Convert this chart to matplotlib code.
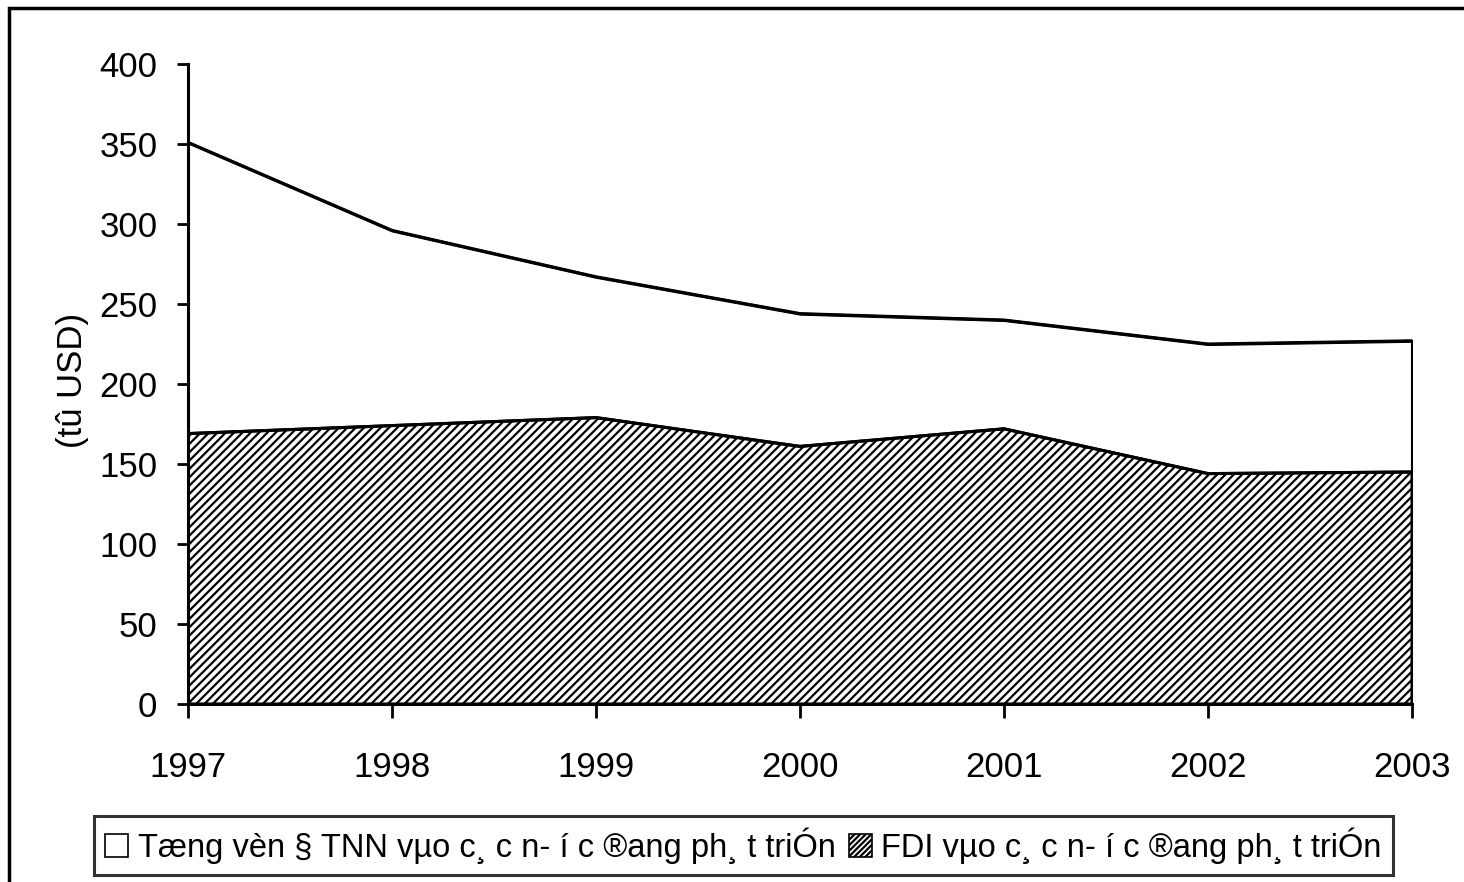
import matplotlib
matplotlib.use("Agg")
import matplotlib.pyplot as plt
from matplotlib.patches import Rectangle, Patch

plt.rcParams['font.family'] = ['Liberation Sans', 'DejaVu Sans']
plt.rcParams['hatch.linewidth'] = 1.6

years = ['1997', '1998', '1999', '2000', '2001', '2002', '2003']
total_fdi = [351, 296, 267, 244, 240, 225, 227]
fdi_developing = [169, 174, 179, 161, 172, 144, 145]
yticks = [0, 50, 100, 150, 200, 250, 300, 350, 400]
label_total = "Tæng vèn § TNN vµo c¸ c n- í c ®ang ph¸ t triÓn"
label_fdi = "FDI vµo c¸ c n- í c ®ang ph¸ t triÓn"
ylabel = "(tû USD)"

W, H = 1464, 882
fig = plt.figure(figsize=(W / 100, H / 100), dpi=100)
fig.patch.set_facecolor('white')

# outer chart frame
fig.patches.append(Rectangle((9 / W, -0.02), 1.05, 1 - 8 / H + 0.02, transform=fig.transFigure,
                             fill=False, edgecolor='black', linewidth=2.5, zorder=0))

ax = fig.add_axes([188 / W, 1 - 704 / H, 1224 / W, 640 / H])
x = list(range(len(years)))

ax.fill_between(x, 0, total_fdi, facecolor='white', edgecolor='black', linewidth=2.2, zorder=2)
ax.plot(x, total_fdi, color='black', linewidth=2.2, zorder=3)
ax.vlines(x[-1], 0, total_fdi[-1], color='black', linewidth=2.2, zorder=3)
ax.fill_between(x, 0, fdi_developing, facecolor='white', edgecolor='black', hatch='////',
                linewidth=2.2, zorder=4)
ax.plot(x, fdi_developing, color='black', linewidth=2.2, zorder=5)

ax.set_xlim(0, len(years) - 1)
ax.set_ylim(0, 400)
ax.set_yticks(yticks)
ax.set_xticks(x)
ax.set_xticklabels(years)

for s in ['top', 'right']:
    ax.spines[s].set_visible(False)
for s in ['left', 'bottom']:
    ax.spines[s].set_linewidth(2.2)
    ax.spines[s].set_zorder(6)

ax.tick_params(axis='y', direction='out', length=8, width=2, labelsize=25, pad=14)
ax.tick_params(axis='x', direction='out', length=10, width=2, labelsize=25, pad=24)
ax.set_ylabel(ylabel, fontsize=25)
ax.yaxis.set_label_coords(-0.081, 0.506)

handles = [Patch(facecolor='white', edgecolor='black', linewidth=1.2, label=label_total),
           Patch(facecolor='white', edgecolor='black', hatch='//////', linewidth=1.2, label=label_fdi)]
leg = fig.legend(handles=handles, loc='lower left', bbox_to_anchor=(94 / W, 1 - 875 / H),
                 ncol=2, prop={'family': ['Liberation Sans', 'DejaVu Sans'], 'size': 23.5},
                 frameon=True, fancybox=False, borderpad=0.34,
                 handlelength=0.7, handleheight=0.7, handletextpad=0.3, columnspacing=0.4,
                 borderaxespad=0)
leg.get_frame().set_edgecolor('black')
leg.get_frame().set_linewidth(2.2)

fig.savefig('out.png', dpi=100)
